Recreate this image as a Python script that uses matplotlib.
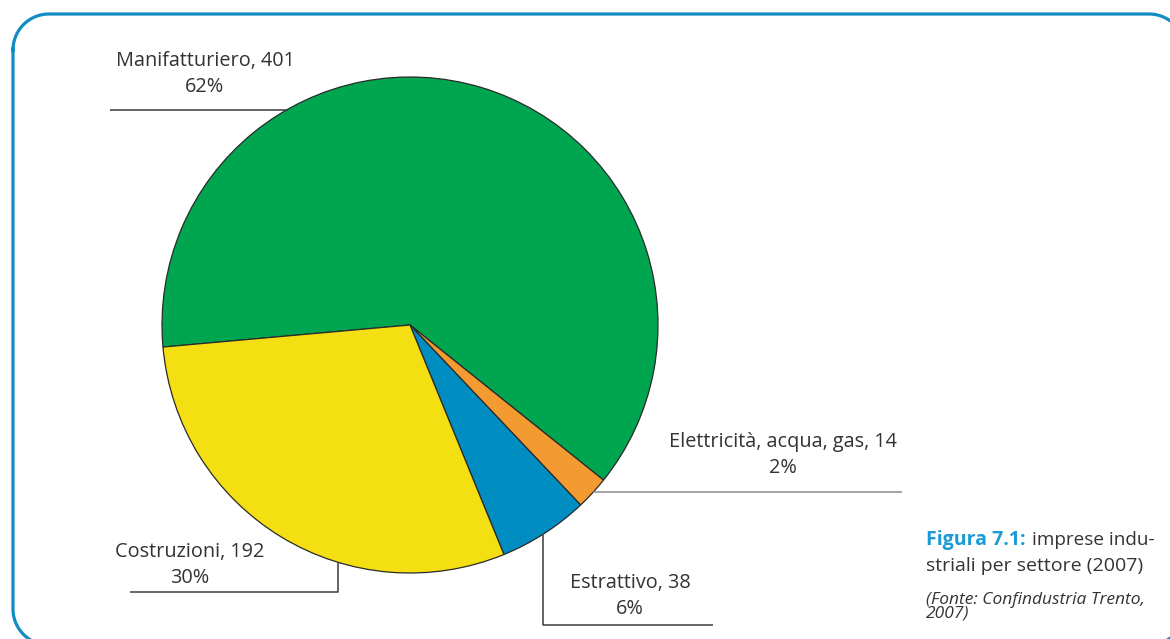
import numpy as np
import matplotlib
matplotlib.use("Agg")
import matplotlib.pyplot as plt

# data
settori = ['Manifatturiero', 'Elettricità, acqua, gas', 'Estrattivo', 'Costruzioni']
imprese = [401, 14, 38, 192]
colori = ['#00a54f', '#f39a30', '#008dc2', '#f4df12']

W, H = 1170, 639
plt.rcParams['font.family'] = ['Open Sans', 'DejaVu Sans']

fig = plt.figure(figsize=(W / 100, H / 100), dpi=100)
ax = fig.add_axes([0, 0, 1, 1])

def py(y):
    # pixel row (from top) -> data y
    return H - y

cx, cy, r = 410, py(325), 248
ax.pie(imprese, colors=colori, startangle=185.1, counterclock=False,
       center=(cx, cy), radius=r, frame=True,
       wedgeprops=dict(edgecolor='#2a2a2a', linewidth=0.9))

tot = sum(imprese)
pct = [round(v / tot * 100) for v in imprese]

# label positions (pixel centre of the two-line block) and leader lines
lab_pos = [(205, 74), (783, 455), (630, 596), (190, 565)]
leaders = [
    [(110, 110), (288, 110)],
    [(593, 492), (902, 492)],
    [(543, 535), (543, 625), (713, 625)],
    [(130, 592), (338, 592), (338, 563)],
]
line_col = ['#3a3a3a', '#8a8a8a', '#3a3a3a', '#3a3a3a']

for i, name in enumerate(settori):
    x, y = lab_pos[i]
    ax.text(x, py(y), f'{name}, {imprese[i]}\n{pct[i]}%', ha='center', va='center',
            fontsize=14.3, color='#333333', linespacing=1.45)
    pts = np.array(leaders[i], dtype=float)
    ax.plot(pts[:, 0], H - pts[:, 1], color=line_col[i], lw=1.1,
            solid_capstyle='butt')

# rounded frame (partly outside the picture on the right and bottom)
x0, x1, y0, y1, rr = 13, 1185, 14, 645, 36
t = np.linspace(0, np.pi / 2, 30)
fx = np.concatenate([x0 + rr - rr * np.cos(t), x1 - rr + rr * np.sin(t),
                     x1 - rr + rr * np.cos(t), x0 + rr - rr * np.sin(t), [x0, x0]])
fy = np.concatenate([y0 + rr - rr * np.sin(t), y0 + rr - rr * np.cos(t),
                     y1 - rr + rr * np.sin(t), y1 - rr + rr * np.cos(t), [y0 + rr, y0 + rr - 1]])
ax.plot(fx, H - fy, color='#128cc2', lw=2.3, clip_on=False, solid_joinstyle='round')

# caption
ax.text(926, py(540), 'Figura 7.1:', ha='left', va='center', fontsize=14,
        fontweight='bold', color='#1c9ad6')
ax.text(1032, py(540), 'imprese indu-', ha='left', va='center', fontsize=13.6, color='#333333')
ax.text(926, py(566), 'striali per settore (2007)', ha='left', va='center', fontsize=14, color='#333333')
ax.text(926, py(607), '(Fonte: Confindustria Trento,\n2007)', ha='left', va='center',
        fontsize=12.5, style='italic', color='#333333', linespacing=0.8)

ax.set_xlim(0, W)
ax.set_ylim(0, H)
ax.set_aspect('equal')
ax.axis('off')

fig.savefig('out.png', dpi=100)
